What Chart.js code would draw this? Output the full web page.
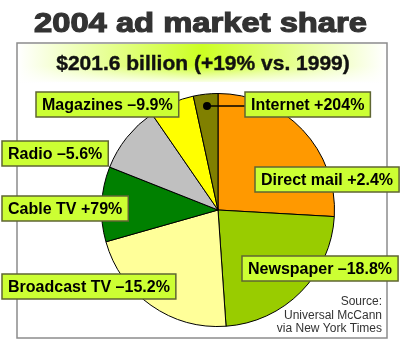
<!DOCTYPE html>
<html>
<head>
<meta charset="utf-8">
<script src="https://cdn.jsdelivr.net/npm/chart.js@4.4.1/dist/chart.umd.min.js"></script>
<style>
  html, body { margin:0; padding:0; background:#fff; }
  #wrap { width:400px; height:341px; position:relative; }
</style>
</head>
<body>
<div id="wrap"><canvas id="c" width="400" height="341"></canvas></div>
<script>
'use strict';
// share of the 2004 total (clockwise from 12 o'clock)
const categories = ['Direct mail', 'Newspaper', 'Broadcast TV', 'Cable TV', 'Radio', 'Magazines', 'Internet'];
const shares = [25.9, 23.0, 21.7, 10.4, 9.4, 6.2, 3.4];
const changes = ['+2.4%', '–18.8%', '–15.2%', '+79%', '–5.6%', '–9.9%', '+204%'];
const sliceColors = ['#ff9900', '#99cc00', '#ffff99', '#008000', '#c0c0c0', '#ffff00', '#808000'];
const titleText = '2004 ad market share';
const subtitleText = '$201.6 billion (+19% vs. 1999)';
const sourceLines = ['Source:', 'Universal McCann', 'via New York Times'];

// label box placement (left, top) in canvas px
const boxPos = [[255,167],[242,256],[2,274],[2,196],[2,141],[36,92],[245,92]];

const FONT = '"Liberation Sans", Arial, sans-serif';

const decor = {
  id: 'decor',
  beforeDraw(chart) {
    const ctx = chart.ctx;
    ctx.save();
    // subtitle band
    const g = ctx.createLinearGradient(18, 0, 386, 0);
    g.addColorStop(0, '#ffffff');
    g.addColorStop(0.5, '#ccff22');
    g.addColorStop(1, '#ffffff');
    ctx.fillStyle = g;
    ctx.fillRect(18, 44, 368, 38);
    const v = ctx.createLinearGradient(0, 66, 0, 84);
    v.addColorStop(0, 'rgba(255,255,255,0)');
    v.addColorStop(1, 'rgba(255,255,255,1)');
    ctx.fillStyle = v;
    ctx.fillRect(18, 66, 368, 18);
    // frame
    ctx.strokeStyle = '#8c8c8c';
    ctx.lineWidth = 1.5;
    ctx.strokeRect(17, 43, 370, 295);
    // title, stretched wide and heavy like the original
    ctx.fillStyle = '#333333';
    ctx.strokeStyle = '#333333';
    ctx.lineWidth = 1.2;
    ctx.font = 'bold 28px ' + FONT;
    ctx.textBaseline = 'alphabetic';
    const tw = ctx.measureText(titleText).width;
    const sx = 333 / tw;
    ctx.save();
    ctx.translate(200.5, 32);
    ctx.scale(sx, 1);
    ctx.textAlign = 'center';
    ctx.fillText(titleText, 0, 0);
    ctx.strokeText(titleText, 0, 0);
    ctx.restore();
    // subtitle
    ctx.fillStyle = '#111111';
    ctx.strokeStyle = '#111111';
    ctx.lineWidth = 0.4;
    ctx.font = 'bold 21px ' + FONT;
    ctx.textAlign = 'center';
    ctx.fillText(subtitleText, 203, 70);
    ctx.strokeText(subtitleText, 203, 70);
    ctx.restore();
  },
  afterDraw(chart) {
    const ctx = chart.ctx;
    ctx.save();
    // leader for the thin Internet slice
    ctx.strokeStyle = '#000';
    ctx.lineWidth = 1.5;
    ctx.beginPath();
    ctx.moveTo(207, 106);
    ctx.lineTo(245, 106);
    ctx.stroke();
    ctx.fillStyle = '#000';
    ctx.beginPath();
    ctx.arc(207, 106, 4, 0, Math.PI * 2);
    ctx.fill();

    ctx.font = 'bold 16px ' + FONT;
    ctx.textBaseline = 'middle';
    ctx.textAlign = 'left';
    categories.forEach((name, i) => {
      const txt = name + ' ' + changes[i];
      const w = ctx.measureText(txt).width + 12;
      const [x, y] = boxPos[i];
      ctx.fillStyle = '#ccff33';
      ctx.fillRect(x, y, w, 25);
      ctx.strokeStyle = '#5f6633';
      ctx.lineWidth = 1.5;
      ctx.strokeRect(x, y, w, 25);
      ctx.fillStyle = '#000';
      ctx.fillText(txt, x + 6, y + 13.5);
    });

    // source note
    ctx.font = '12px ' + FONT;
    ctx.fillStyle = '#333';
    ctx.textAlign = 'right';
    ctx.textBaseline = 'alphabetic';
    sourceLines.forEach((s, i) => ctx.fillText(s, 382, 305 + i * 13.5));
    ctx.restore();
  }
};

new Chart(document.getElementById('c'), {
  type: 'pie',
  data: {
    labels: categories,
    datasets: [{
      data: shares,
      backgroundColor: sliceColors,
      borderColor: '#000',
      borderWidth: 1
    }]
  },
  options: {
    responsive: false,
    animation: false,
    layout: { padding: { left: 101, right: 65, top: 93, bottom: 14 } },
    plugins: { legend: { display: false }, tooltip: { enabled: false } }
  },
  plugins: [decor]
});
</script>
</body>
</html>
